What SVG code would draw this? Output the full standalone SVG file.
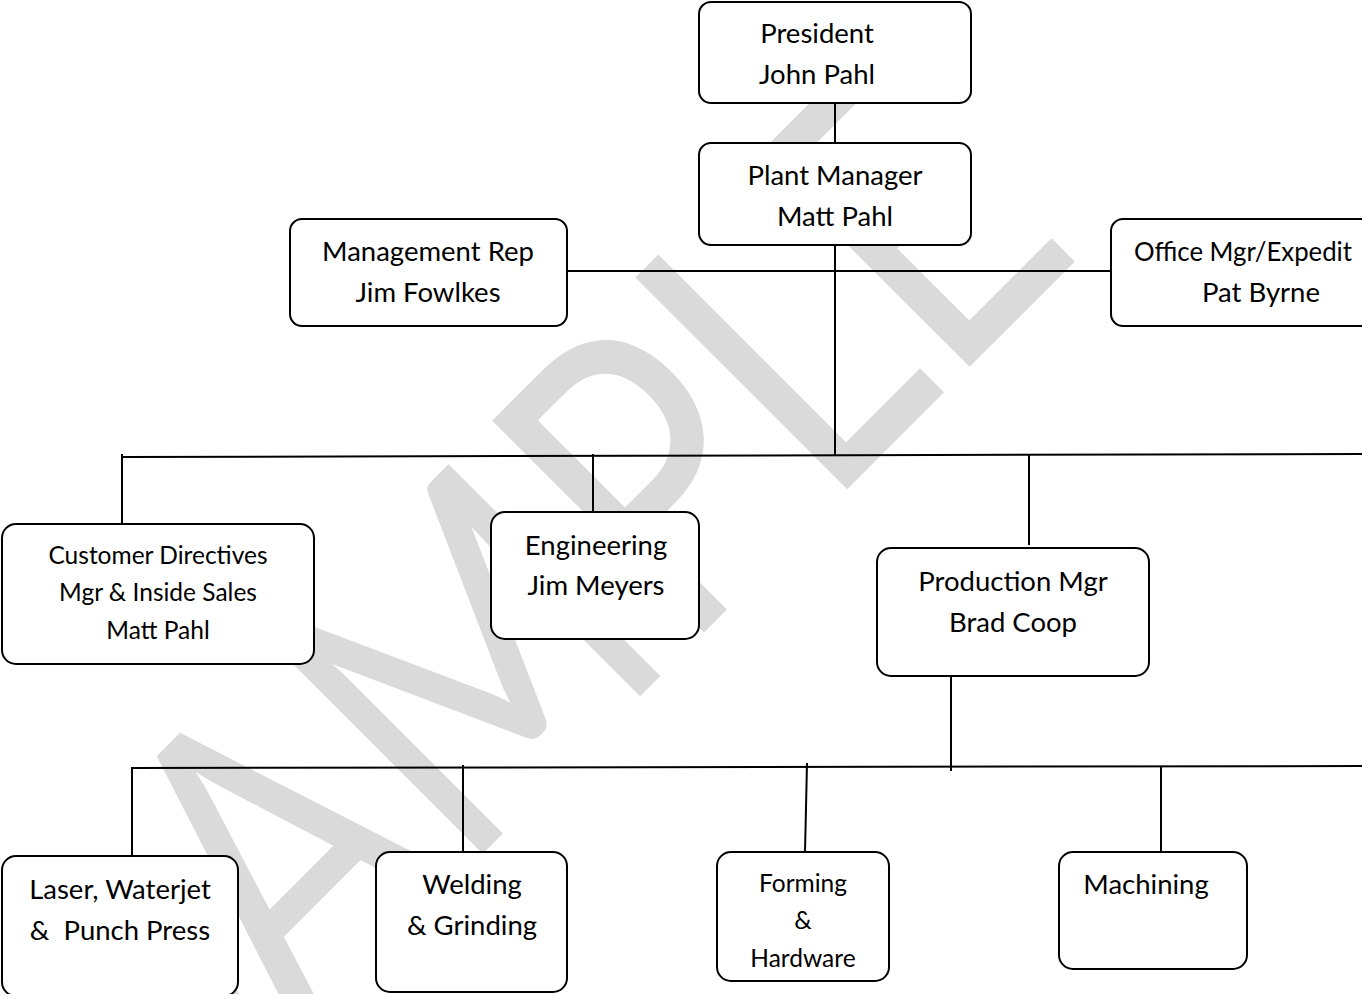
<svg xmlns="http://www.w3.org/2000/svg" width="1362" height="994" viewBox="0 0 1362 994">
<style>
.box{fill:#ffffff;stroke:#000000;stroke-width:2}
.t{font-family:Lato,"Liberation Sans",sans-serif;font-size:27.5px;fill:#000000;text-anchor:middle}
.s{font-size:24.5px}
.ln{stroke:#000000;stroke-width:2;fill:none}
.wm{font-family:Lato,"Liberation Sans",sans-serif;font-size:418px;fill:#dadada}
</style>
<rect x="0" y="0" width="1362" height="994" fill="#ffffff"/>
<g id="watermark">
<text class="wm" x="-700" y="945" transform="rotate(-45)" textLength="1290" lengthAdjust="spacingAndGlyphs">SAMPLE</text>
</g>
<g id="connectors">
<line class="ln" x1="835" y1="103" x2="835" y2="143"/>
<line class="ln" x1="835" y1="245" x2="835" y2="456"/>
<line class="ln" x1="567" y1="271" x2="1111" y2="271"/>
<line class="ln" x1="121" y1="457" x2="1362" y2="454"/>
<line class="ln" x1="122" y1="454" x2="122" y2="524"/>
<line class="ln" x1="593" y1="454" x2="593" y2="512"/>
<line class="ln" x1="1029" y1="455" x2="1029" y2="545"/>
<line class="ln" x1="951" y1="676" x2="951" y2="771"/>
<line class="ln" x1="131" y1="768" x2="1362" y2="766"/>
<line class="ln" x1="132" y1="768" x2="132" y2="856"/>
<line class="ln" x1="463" y1="765" x2="463" y2="852"/>
<line class="ln" x1="807" y1="763" x2="805" y2="852"/>
<line class="ln" x1="1161" y1="766" x2="1161" y2="852"/>
</g>
<g id="president">
<rect class="box" x="699" y="2" width="272" height="101" rx="12"/>
<text class="t" x="817" y="43">President</text>
<text class="t" x="817" y="84">John Pahl</text>
</g>
<g id="plant-manager">
<rect class="box" x="699" y="143" width="272" height="102" rx="12"/>
<text class="t" x="835" y="185">Plant Manager</text>
<text class="t" x="835" y="226">Matt Pahl</text>
</g>
<g id="management-rep">
<rect class="box" x="290" y="219" width="277" height="107" rx="12"/>
<text class="t" x="428" y="261">Management Rep</text>
<text class="t" x="428" y="302">Jim Fowlkes</text>
</g>
<g id="office-mgr">
<rect class="box" x="1111" y="219" width="300" height="107" rx="12"/>
<text class="t" x="1134" y="261" style="text-anchor:start" textLength="218" lengthAdjust="spacingAndGlyphs">Office Mgr/Expedit</text>
<text class="t" x="1261" y="302">Pat Byrne</text>
</g>
<g id="customer-directives">
<rect class="box" x="2" y="524" width="312" height="140" rx="14"/>
<text class="t s" x="158" y="564">Customer Directives</text>
<text class="t s" x="158" y="601">Mgr &amp; Inside Sales</text>
<text class="t s" x="158" y="639">Matt Pahl</text>
</g>
<g id="engineering">
<rect class="box" x="491" y="512" width="208" height="127" rx="14"/>
<text class="t" x="596" y="555">Engineering</text>
<text class="t" x="596" y="595">Jim Meyers</text>
</g>
<g id="production-mgr">
<rect class="box" x="877" y="548" width="272" height="128" rx="14"/>
<text class="t" x="1013" y="591">Production Mgr</text>
<text class="t" x="1013" y="632">Brad Coop</text>
</g>
<g id="laser">
<rect class="box" x="2" y="856" width="236" height="140" rx="14"/>
<text class="t" x="120" y="899">Laser, Waterjet</text>
<text class="t" x="120" y="940" xml:space="preserve">&amp;  Punch Press</text>
</g>
<g id="welding">
<rect class="box" x="376" y="852" width="191" height="140" rx="14"/>
<text class="t" x="472" y="894">Welding</text>
<text class="t" x="472" y="935">&amp; Grinding</text>
</g>
<g id="forming">
<rect class="box" x="717" y="852" width="172" height="129" rx="14"/>
<text class="t s" x="803" y="892">Forming</text>
<text class="t s" x="803" y="929">&amp;</text>
<text class="t s" x="803" y="967">Hardware</text>
</g>
<g id="machining">
<rect class="box" x="1059" y="852" width="188" height="117" rx="14"/>
<text class="t" x="1146" y="894">Machining</text>
</g>
</svg>
